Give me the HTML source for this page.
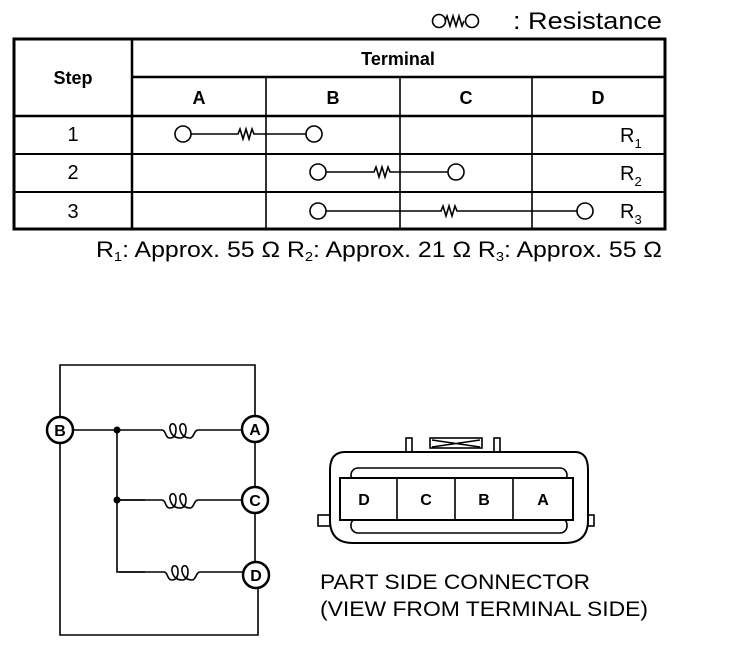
<!DOCTYPE html>
<html><head><style>body{margin:0;background:#fff}svg{display:block}text{font-family:"Liberation Sans",Arial,sans-serif;fill:#000}</style></head><body>
<svg width="736" height="654" viewBox="0 0 736 654" xmlns="http://www.w3.org/2000/svg">
<g stroke="#000" fill="none" stroke-width="1.6">
<!-- legend -->
<circle cx="439" cy="21" r="6.5"/><circle cx="472" cy="21" r="6.5"/>
<path d="M445 21 l2 -5 l3 10 l3 -10 l3 10 l3 -10 l3 10 l2 -5"/>
<!-- table -->
<rect x="14" y="39" width="651" height="190" stroke-width="3"/>
<line x1="132" y1="39" x2="132" y2="229" stroke-width="2.5"/>
<line x1="132" y1="77" x2="665" y2="77" stroke-width="2.5"/>
<line x1="14" y1="116" x2="665" y2="116" stroke-width="2.5"/>
<line x1="14" y1="154" x2="665" y2="154" stroke-width="2"/>
<line x1="14" y1="192" x2="665" y2="192" stroke-width="2"/>
<line x1="266" y1="77" x2="266" y2="229"/><line x1="400" y1="77" x2="400" y2="229"/><line x1="532" y1="77" x2="532" y2="229"/>
<circle cx="183" cy="134" r="8"/><circle cx="314" cy="134" r="8"/>
<path d="M191 134 H238 l2 -5 l3 10 l3 -10 l3 10 l3 -10 l2 5 H306"/>
<circle cx="318" cy="172" r="8"/><circle cx="456" cy="172" r="8"/>
<path d="M326 172 H374 l2 -5 l3 10 l3 -10 l3 10 l3 -10 l2 5 H448"/>
<circle cx="318" cy="211" r="8"/><circle cx="585" cy="211" r="8"/>
<path d="M326 211 H441 l2 -5 l3 10 l3 -10 l3 10 l3 -10 l2 5 H577"/>
<!-- circuit -->
<path d="M60 417 V365 H255 V416"/>
<path d="M60 443 V635 H258 V588"/>
<path d="M255 442 V487 M255 513 V562"/>
<path d="M73 430 H117 M117 430 V572 H145 M117 500 H145"/>
<g id="coil"><path d="M117 430 H162 c4 0 3 8 8 8 c5 0 6 -5 6 -9 c0 -7 -7 -7 -6 0 c1 6 5 9 10 9 c5 0 6 -5 6 -9 c0 -7 -7 -7 -6 0 c1 6 5 9 10 9 c4 0 4 -8 8 -8 H242"/></g>
<use href="#coil" y="70"/><use href="#coil" y="142" transform="translate(2,0)"/>
<circle cx="60" cy="430" r="13" stroke-width="2.5"/>
<circle cx="255" cy="429" r="13" stroke-width="2.5"/>
<circle cx="255" cy="500" r="13" stroke-width="2.5"/>
<circle cx="256" cy="575" r="13" stroke-width="2.5"/>
<!-- connector -->
<path d="M345 452 H575 Q588 452 588 470 V520 Q588 543 565 543 H353 Q330 543 330 520 V470 Q330 452 345 452 Z" stroke-width="2"/>
<rect x="351" y="468" width="216" height="14" rx="7"/>
<rect x="351" y="518" width="216" height="15" rx="7"/>
<rect x="340" y="478" width="233" height="42" fill="#fff" stroke-width="2"/>
<path d="M397 478 V520 M455 478 V520 M513 478 V520"/>
<rect x="318" y="515" width="12" height="11"/><rect x="588" y="515" width="6" height="11"/>
<rect x="406" y="438" width="6" height="14"/><rect x="494" y="438" width="6" height="14"/>
<rect x="430" y="438" width="52" height="10"/><path d="M432 440 L480 447 M432 447 L480 440"/>
</g>
<circle cx="117" cy="430" r="3.5"/><circle cx="117" cy="500" r="3.5"/>
<text x="513" y="29" font-size="24" textLength="149" lengthAdjust="spacingAndGlyphs">: Resistance</text>
<text x="73" y="84" font-size="18" font-weight="bold" text-anchor="middle">Step</text>
<text x="398" y="65" font-size="18" font-weight="bold" text-anchor="middle">Terminal</text>
<g font-size="18" font-weight="bold" text-anchor="middle">
<text x="199" y="104">A</text><text x="333" y="104">B</text><text x="466" y="104">C</text><text x="598" y="104">D</text></g>
<g font-size="20" text-anchor="middle"><text x="73" y="141">1</text><text x="73" y="179">2</text><text x="73" y="218">3</text></g>
<g font-size="20"><text x="620" y="142">R<tspan font-size="13" dy="6">1</tspan></text>
<text x="620" y="180">R<tspan font-size="13" dy="6">2</tspan></text>
<text x="620" y="218">R<tspan font-size="13" dy="6">3</tspan></text></g>
<text x="96" y="257" font-size="22" textLength="566" lengthAdjust="spacingAndGlyphs">R<tspan font-size="13" dy="4">1</tspan><tspan dy="-4">: Approx. 55 Ω R</tspan><tspan font-size="13" dy="4">2</tspan><tspan dy="-4">: Approx. 21 Ω R</tspan><tspan font-size="13" dy="4">3</tspan><tspan dy="-4">: Approx. 55 Ω</tspan></text>
<g font-size="16" font-weight="bold" text-anchor="middle">
<text x="60" y="436">B</text><text x="255" y="435">A</text><text x="255" y="506">C</text><text x="256" y="581">D</text>
<text x="364" y="505">D</text><text x="426" y="505">C</text><text x="484" y="505">B</text><text x="543" y="505">A</text></g>
<text x="320" y="589" font-size="21" textLength="270" lengthAdjust="spacingAndGlyphs">PART SIDE CONNECTOR</text>
<text x="320" y="616" font-size="21" textLength="328" lengthAdjust="spacingAndGlyphs">(VIEW FROM TERMINAL SIDE)</text>
</svg>
</body></html>
